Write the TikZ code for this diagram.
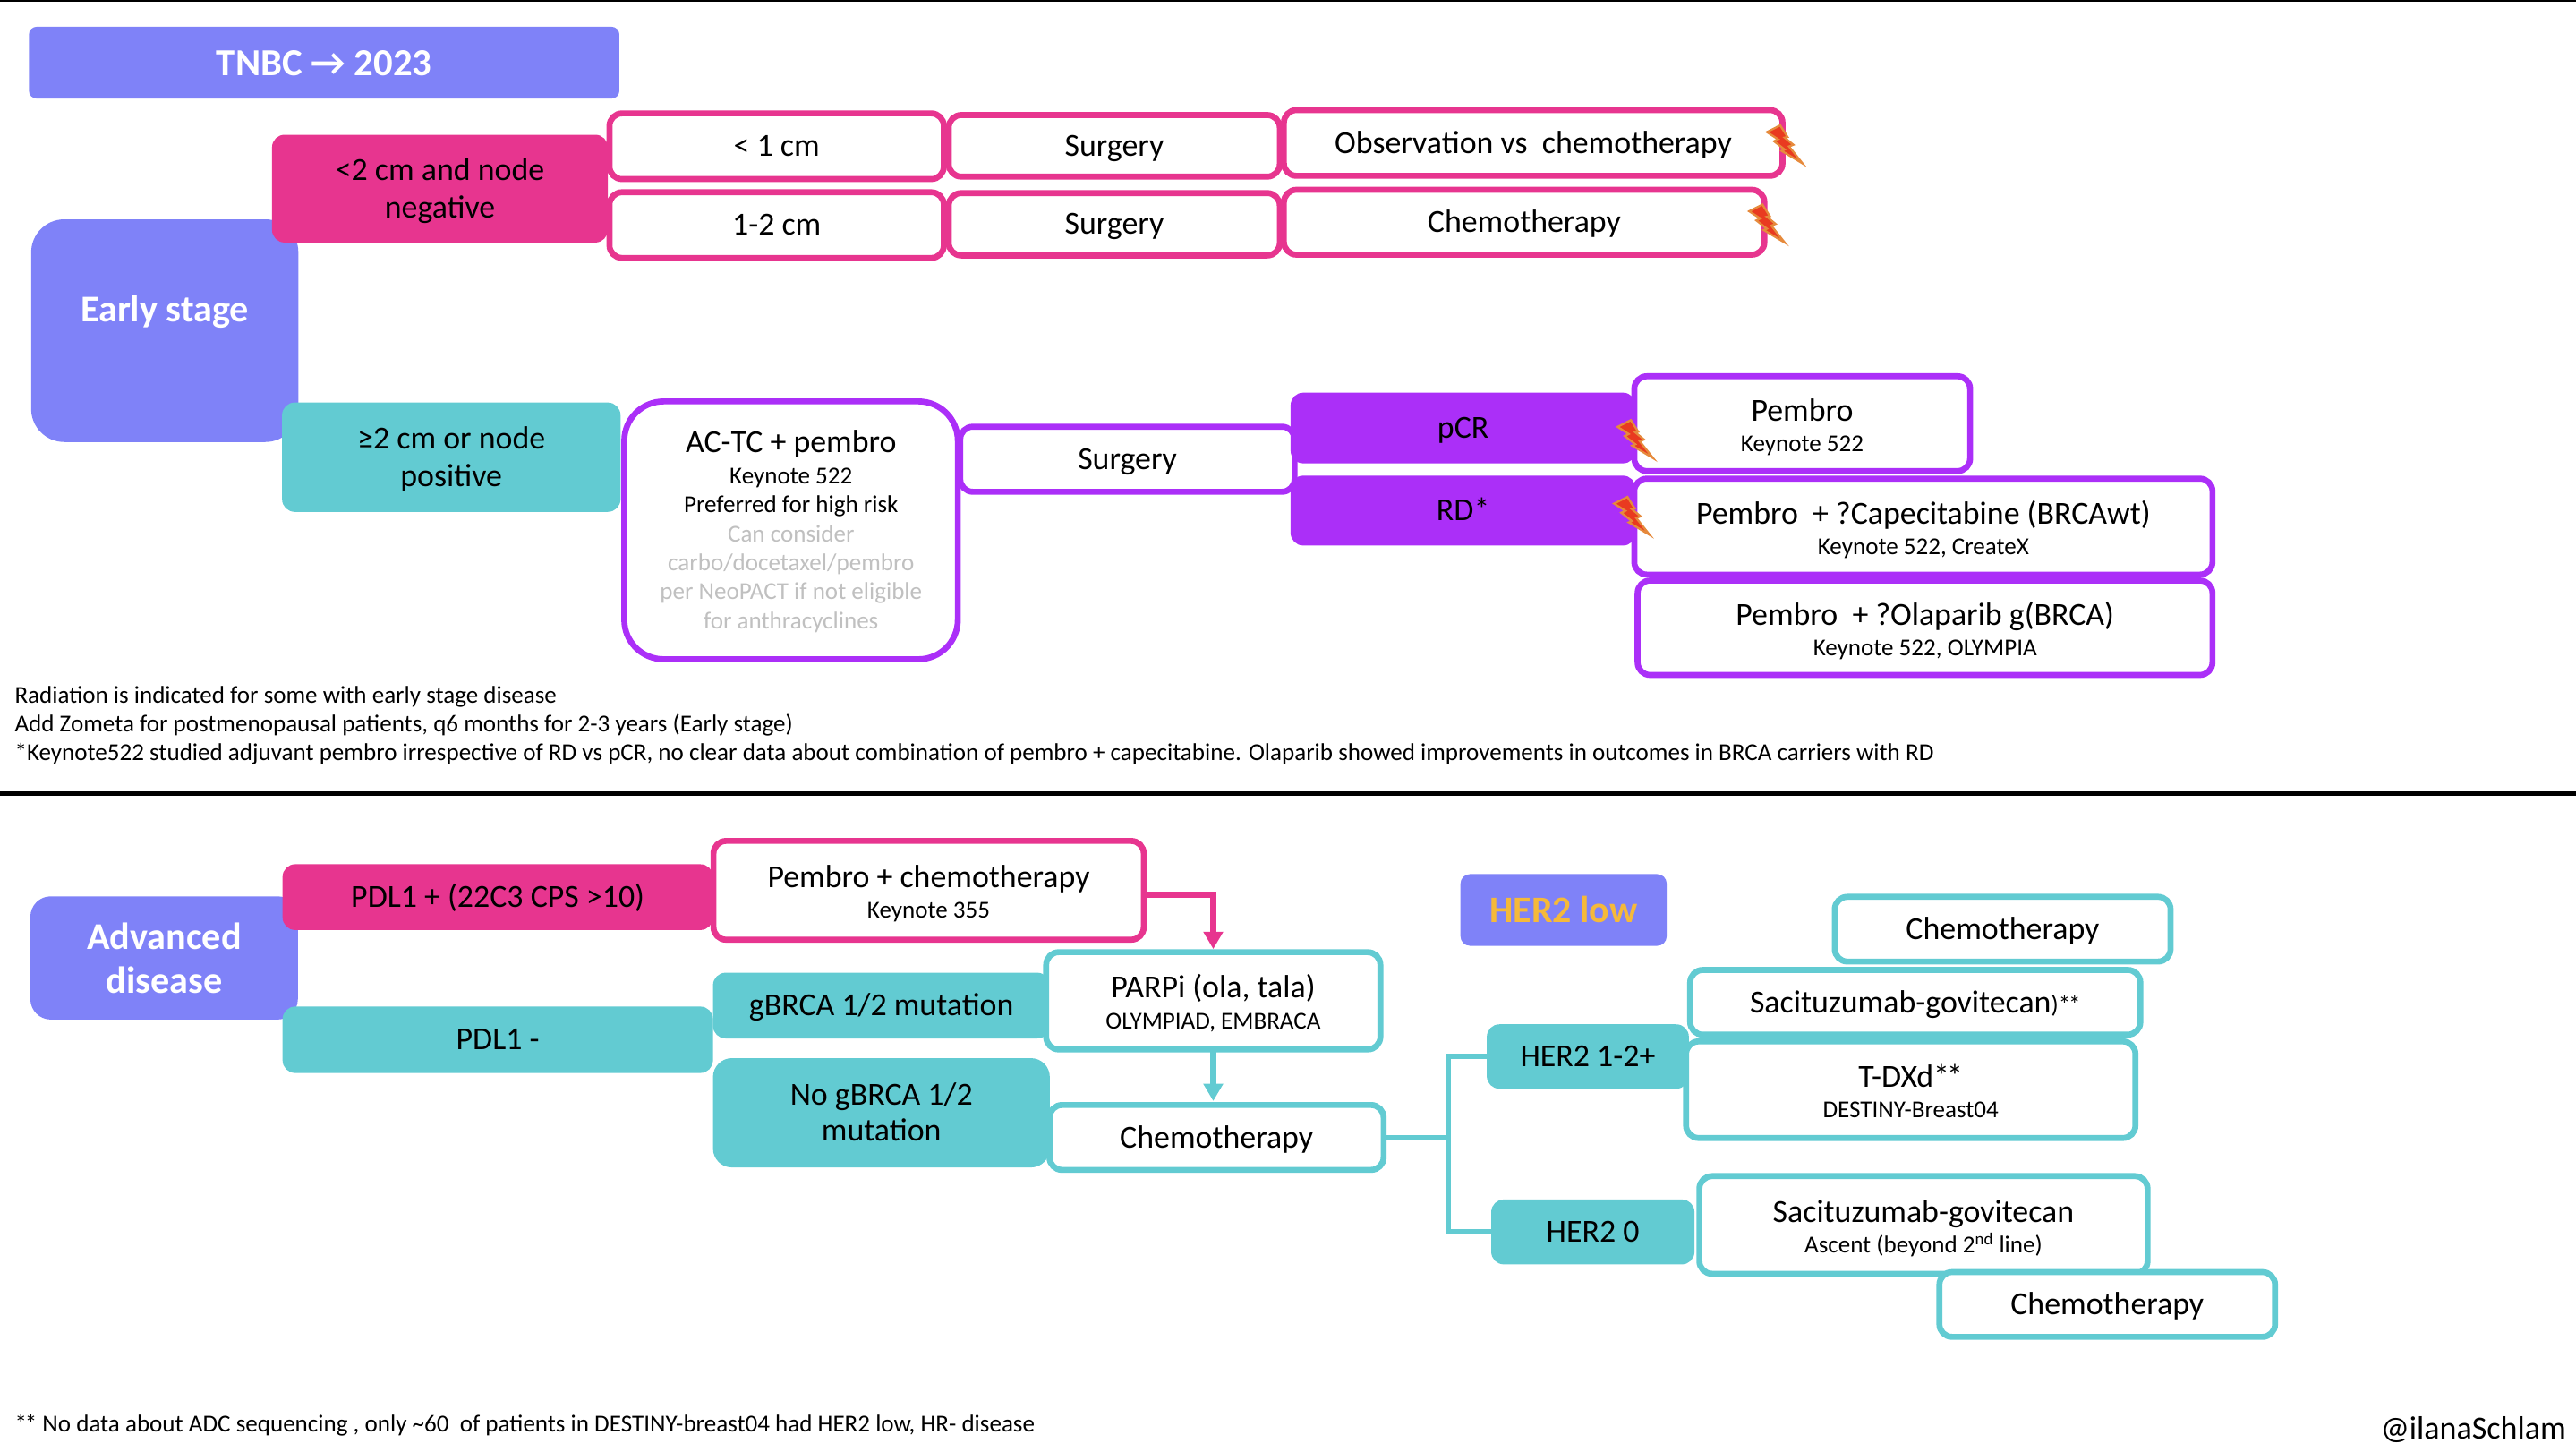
\documentclass[tikz,border=0pt]{standalone}
\usepackage{fontspec}
\setmainfont{Carlito}
\usetikzlibrary{arrows.meta}
\definecolor{cblue}{HTML}{7F82F8}
\definecolor{cpink}{HTML}{E7358F}
\definecolor{cteal}{HTML}{62CBD2}
\definecolor{cpurple}{HTML}{AB2FF8}
\definecolor{cred}{HTML}{E93A20}
\definecolor{corange}{HTML}{E68A3C}
\definecolor{cgold}{HTML}{F5B93A}
\definecolor{cgrey}{HTML}{C0C0C0}
\newcommand{\mainf}{\fontsize{20.4pt}{19.6pt}\selectfont}
\newcommand{\widef}{\fontsize{20.4pt}{24pt}\selectfont}
\newcommand{\subf}{\fontsize{15.4pt}{19.6pt}\selectfont}
\newcommand{\notef}{\fontsize{15.4pt}{18pt}\selectfont}
\newcommand{\tl}{\rule{0pt}{20pt}}
\newcommand{\bx}[7]{%
  \pgfmathsetmacro\bcx{(#2+#4)/2}%
  \pgfmathsetmacro\bcy{(#3+#5)/2}%
  \pgfmathsetmacro\bw{abs(#4-#2)*1.0442}%
  \pgfmathsetmacro\bh{abs(#5-#3)*1.0442}%
  \node[#6,minimum width=\bw pt,minimum height=\bh pt] (#1) at (\bcx,\bcy) {\rule{0pt}{17pt}#7\rule[-4pt]{0pt}{0pt}};}
\newcommand{\bolt}[2]{%
  \draw[boltmark,shift={(#1,#2)},scale=0.93] (0,4.4)--(8.7,0)--(13.5,7.6)--(11.6,8)--(17.3,12.7)--(14.5,13.8)--(23.3,24.9)--(9.6,16.7)--(11.6,15.8)--(4.7,10.4)--(7.3,9.1)--cycle;}
\tikzset{
  base box/.style={inner sep=0pt,outer sep=0pt,align=center,font=\mainf,text=black,rounded corners=8pt},
  pinkfill/.style={base box,fill=cpink},
  tealfill/.style={base box,fill=cteal},
  purplefill/.style={base box,fill=cpurple},
  bluefill/.style={base box,fill=cblue,text=white},
  pinkbox/.style={base box,draw=cpink,fill=white,line width=3.8pt},
  tealbox/.style={base box,draw=cteal,fill=white,line width=3.8pt},
  purplebox/.style={base box,draw=cpurple,fill=white,line width=3.8pt},
  notetext/.style={inner sep=0pt,outer sep=0pt,font=\notef,anchor=base west},
  boltmark/.style={draw=corange,fill=cred,line width=1.3pt,line join=miter},
  rule/.style={draw=black},
  pinkline/.style={draw=cpink,line width=3.5pt},
  tealline/.style={draw=cteal,line width=3.5pt},
  tip/.style={-{Triangle[length=11pt,width=12pt]}}
}
\begin{document}
\begin{tikzpicture}[x=0.0367cm,y=-0.0367cm]
\useasboundingbox (0,0) rectangle (1568,883.7);
% rules
\coordinate (topL) at (0,0.5); \coordinate (topR) at (1568,0.5);
\coordinate (midL) at (0,483); \coordinate (midR) at (1568,483);
\draw[rule,line width=1.2pt] (topL)--(topR);
\draw[rule,line width=3.2pt] (midL)--(midR);
% title
\bx{title}{17.6}{16.3}{377}{60}{bluefill,rounded corners=5pt,font=\fontsize{24.3pt}{25pt}\selectfont\bfseries}{\rule{0pt}{21pt}TNBC → 2023}
% early stage
\bx{early}{19}{133.5}{181.6}{269}{bluefill,rounded corners=21pt,font=\fontsize{24pt}{25pt}\selectfont\bfseries,text depth=28pt}{Early stage}
\bx{small}{165.6}{82}{370}{147.6}{pinkfill,font=\widef}{<2 cm and node\\negative}
\bx{large}{171.7}{245}{377.7}{311.5}{tealfill,font=\widef}{≥2 cm or node\\positive}
\bx{lt1}{371}{69}{574.5}{109}{pinkbox}{< 1 cm}
\bx{s1}{577.5}{70}{779}{107.5}{pinkbox}{Surgery}
\bx{obs}{781.5}{67}{1085}{107}{pinkbox}{Observation vs~~chemotherapy}
\bx{onetwo}{371}{117}{574.5}{157}{pinkbox}{1-2 cm}
\bx{s2}{577.5}{117.5}{779}{155.5}{pinkbox}{Surgery}
\bx{chemoA}{781.5}{115.5}{1074}{155}{pinkbox}{Chemotherapy}
\bolt{1075.5}{76.3}
\bolt{1064.7}{124.5}
\bx{actc}{380}{244.3}{583}{401.2}{purplebox,rounded corners=25pt,font=\fontsize{20.4pt}{18.4pt}\selectfont}{AC-TC + pembro\\[1.5pt]{\subf Keynote 522}\\{\subf Preferred for high risk}\\{\subf\color{cgrey}Can consider}\\{\subf\color{cgrey}carbo/docetaxel/pembro}\\{\subf\color{cgrey}per NeoPACT if not eligible}\\{\subf\color{cgrey}for anthracyclines}}
\bx{s3}{584.5}{259.7}{788}{299.3}{purplebox}{Surgery}
\bx{pcr}{785.6}{239}{995.6}{282}{purplefill}{pCR}
\bx{rd}{785.6}{289.5}{995.6}{332}{purplefill}{RD*}
\bx{pem}{994.8}{229}{1199.2}{286.7}{purplebox}{\tl Pembro\\{\subf Keynote 522}}
\bx{cap}{994.8}{291.3}{1346.7}{349.7}{purplebox}{\tl Pembro~~+ ?Capecitabine (BRCAwt)\\{\subf Keynote 522, CreateX}}
\bx{ola}{996.8}{353.3}{1346.7}{410.8}{purplebox}{\tl Pembro~~+ ?Olaparib g(BRCA)\\{\subf Keynote 522, OLYMPIA}}
\bolt{984.6}{255.7}
\bolt{982.5}{302.4}
% notes
\node[notetext] (n1) at (9,427.8) {Radiation is indicated for some with early stage disease};
\node[notetext] (n2) at (9,445.2) {Add Zometa for postmenopausal patients, q6 months for 2-3 years (Early stage)};
\node[notetext] (n3) at (9,462.7) {*Keynote522 studied adjuvant pembro irrespective of RD vs pCR, no clear data about combination of pembro + capecitabine. Olaparib showed improvements in outcomes in BRCA carriers with RD};
% advanced
\bx{adv}{18.5}{545.5}{181.3}{620.5}{bluefill,rounded corners=13pt,font=\fontsize{24pt}{28pt}\selectfont\bfseries}{\rule{0pt}{21pt}Advanced\\disease}
\bx{pos}{172}{526}{434}{566}{pinkfill}{PDL1 + (22C3 CPS >10)}
\bx{neg}{172}{612.6}{434}{653}{tealfill}{PDL1 -}
\bx{pemchem}{434.3}{511.8}{696.2}{571.9}{pinkbox}{\tl Pembro + chemotherapy\\{\subf Keynote 355}}
\bx{gb}{434}{592}{639}{632}{tealfill}{gBRCA 1/2 mutation}
\bx{nogb}{434}{644}{639}{710.5}{tealfill,rounded corners=12pt,font=\fontsize{20.4pt}{23pt}\selectfont}{No gBRCA 1/2\\mutation}
\bx{parpi}{636.8}{579.5}{840.2}{638.7}{tealbox}{\tl PARPi (ola, tala)\\{\subf OLYMPIAD, EMBRACA}}
\bx{chemoB}{638.8}{672.5}{842.2}{712}{tealbox}{Chemotherapy}
\draw[pinkline,tip,shorten >=2pt] ([yshift=-2.8pt]pemchem.east) -| (parpi.north);
\draw[tealline,tip,shorten >=2.5pt] (parpi.south) -- (parpi.south |- chemoB.north);
% HER2 low
\bx{low}{889}{532}{1014.5}{575.6}{bluefill,rounded corners=6pt,text=cgold,font=\fontsize{23.8pt}{25pt}\selectfont\bfseries}{\rule{0pt}{20pt}HER2 low}
\bx{chemoC}{1116.8}{545.8}{1321.2}{585.2}{tealbox}{Chemotherapy}
\bx{sac}{1028.8}{590.3}{1302.8}{629.7}{tealbox}{Sacituzumab-govitecan{\subf)*\kern-0.08em*}}
\bx{her1}{905}{623.4}{1028}{662.6}{tealfill}{HER2 1-2+}
\bx{tdxd}{1026.3}{633.8}{1299.8}{692.6}{tealbox}{\tl T-DXd*\kern-0.08em*\\{\subf DESTINY-Breast04}}
\bx{her0}{907.7}{730}{1031.4}{769.5}{tealfill}{HER2 0}
\bx{sacB}{1034.4}{715.8}{1307.2}{775.2}{tealbox}{\tl Sacituzumab-govitecan\\{\subf Ascent (beyond 2\textsuperscript{nd} line)}}
\bx{chemoD}{1180.5}{774.2}{1384.8}{813.6}{tealbox}{Chemotherapy}
\coordinate (bus) at (881.5,693);
\draw[tealline] (chemoB.east) -- (chemoB.east -| bus);
\draw[tealline] (her1.west) -| (bus) |- (her0.west);
% footers
\node[notetext] (foot) at (9,871.5) {*\kern-0.08em* No data about ADC sequencing , only \textasciitilde60~~of patients in DESTINY-breast04 had HER2 low, HR- disease};
\node[inner sep=0pt,outer sep=0pt,font=\fontsize{20.5pt}{21pt}\selectfont,anchor=base east] (handle) at (1562,876) {@ilanaSchlam};
\end{tikzpicture}
\end{document}
